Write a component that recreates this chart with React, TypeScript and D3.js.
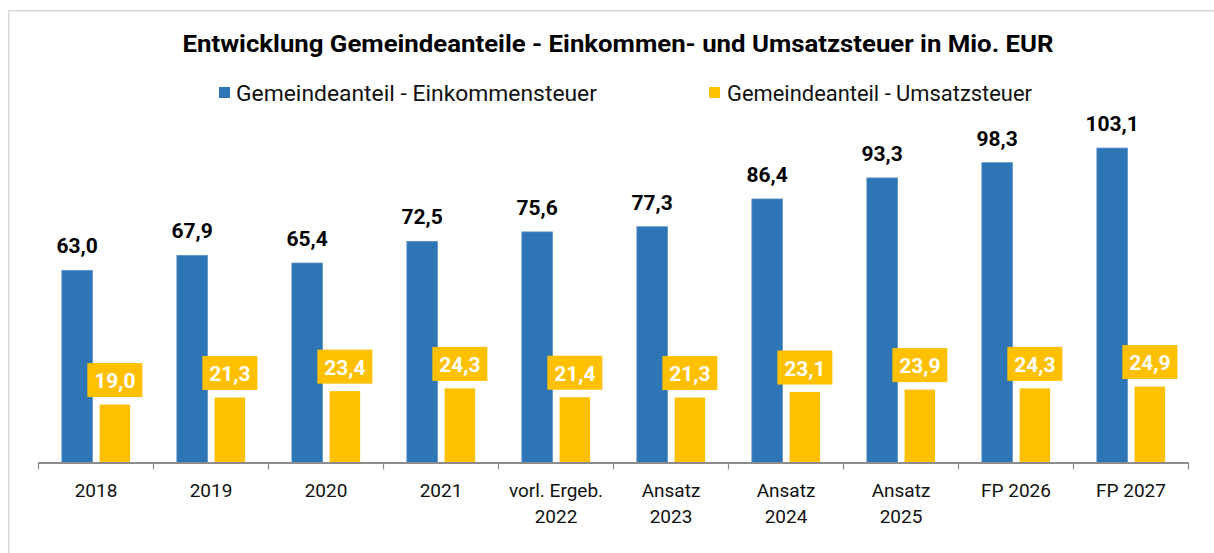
import React from "react";
import * as d3 from "d3";

const categories: string[][] = [
  ["2018"],
  ["2019"],
  ["2020"],
  ["2021"],
  ["vorl. Ergeb.", "2022"],
  ["Ansatz", "2023"],
  ["Ansatz", "2024"],
  ["Ansatz", "2025"],
  ["FP 2026"],
  ["FP 2027"],
];
const einkommen: number[] = [63.0, 67.9, 65.4, 72.5, 75.6, 77.3, 86.4, 93.3, 98.3, 103.1];
const umsatz: number[] = [19.0, 21.3, 23.4, 24.3, 21.4, 21.3, 23.1, 23.9, 24.3, 24.9];
const seriesNames = ["Gemeindeanteil - Einkommensteuer", "Gemeindeanteil - Umsatzsteuer"];
const title = "Entwicklung Gemeindeanteile - Einkommen- und Umsatzsteuer in Mio. EUR";

const W = 1214;
const H = 553;
const BLUE = "#2E75B6";
const YELLOW = "#FFC000";
const FONT = "Roboto, 'Noto Sans', sans-serif";

const fmt = (v: number) => v.toFixed(1).replace(".", ",");

export default function App() {
  const keys = categories.map((c) => c.join(" "));
  const x = d3.scaleBand<string>().domain(keys).range([38.5, 1188.5]).paddingInner(0).paddingOuter(0);
  const inner = d3
    .scaleBand<string>()
    .domain(["ek", "ust"])
    .range([0, x.bandwidth()])
    .paddingInner(0.19)
    .paddingOuter(0.62);
  const y = d3.scaleLinear().domain([0, 100]).range([462.5, 462.5 - 305]);
  const base = y(0);
  const ticks = [...keys.map((k) => x(k) as number), 1188.5];

  return (
    <svg width={W} height={H} style={{ position: "absolute", left: 0, top: 0 }} fontFamily={FONT}>
      <rect x={0} y={0} width={W} height={H} fill="#fff" />
      <rect x={8.75} y={10.75} width={1400} height={700} fill="none" stroke="#D9D9D9" strokeWidth={1.5} />
      <text
        x={618}
        y={52}
        textAnchor="middle"
        fontSize={24}
        fontWeight={700}
        fill="#000"
        textLength={871}
        lengthAdjust="spacingAndGlyphs"
      >
        {title}
      </text>
      {/* legend */}
      <rect x={219} y={87} width={11} height={11} fill={BLUE} />
      <text x={236} y={101} fontSize={22} fill="#111" textLength={361} lengthAdjust="spacingAndGlyphs">
        {seriesNames[0]}
      </text>
      <rect x={709} y={87} width={11} height={11} fill={YELLOW} />
      <text x={727} y={101} fontSize={22} fill="#111" textLength={305} lengthAdjust="spacingAndGlyphs">
        {seriesNames[1]}
      </text>

      {keys.map((k, i) => {
        const x0 = x(k) as number;
        const bx = x0 + (inner("ek") as number);
        const ux = x0 + (inner("ust") as number);
        const bw = inner.bandwidth();
        const by = y(einkommen[i]);
        const uy = y(umsatz[i]);
        const ucx = ux + bw / 2;
        return (
          <g key={k}>
            <rect x={bx} y={by} width={bw} height={base - by} fill={BLUE} stroke="#5B8FC9" strokeWidth={0.8} />
            <rect x={ux} y={uy} width={bw} height={base - uy} fill={YELLOW} />
            <text x={bx + bw / 2} y={by - 17} textAnchor="middle" fontSize={21} fontWeight={700} fill="#000">
              {fmt(einkommen[i])}
            </text>
            <rect x={ucx - 27.5} y={uy - 41.5} width={55} height={34} fill={YELLOW} />
            <text x={ucx} y={uy - 16.5} textAnchor="middle" fontSize={21} fontWeight={700} fill="#fff">
              {fmt(umsatz[i])}
            </text>
            {categories[i].map((line, j) => (
              <text
                key={j}
                x={x0 + x.bandwidth() / 2}
                y={497 + j * 25.5}
                textAnchor="middle"
                fontSize={19}
                fill="#111"
              >
                {line}
              </text>
            ))}
          </g>
        );
      })}
      <line x1={38.5} x2={1188.5} y1={base + 0.5} y2={base + 0.5} stroke="#8C8C8C" strokeWidth={2} />
      {ticks.map((t, i) => (
        <line key={i} x1={t} x2={t} y1={base} y2={base + 7} stroke="#8C8C8C" strokeWidth={1.2} />
      ))}
    </svg>
  );
}
